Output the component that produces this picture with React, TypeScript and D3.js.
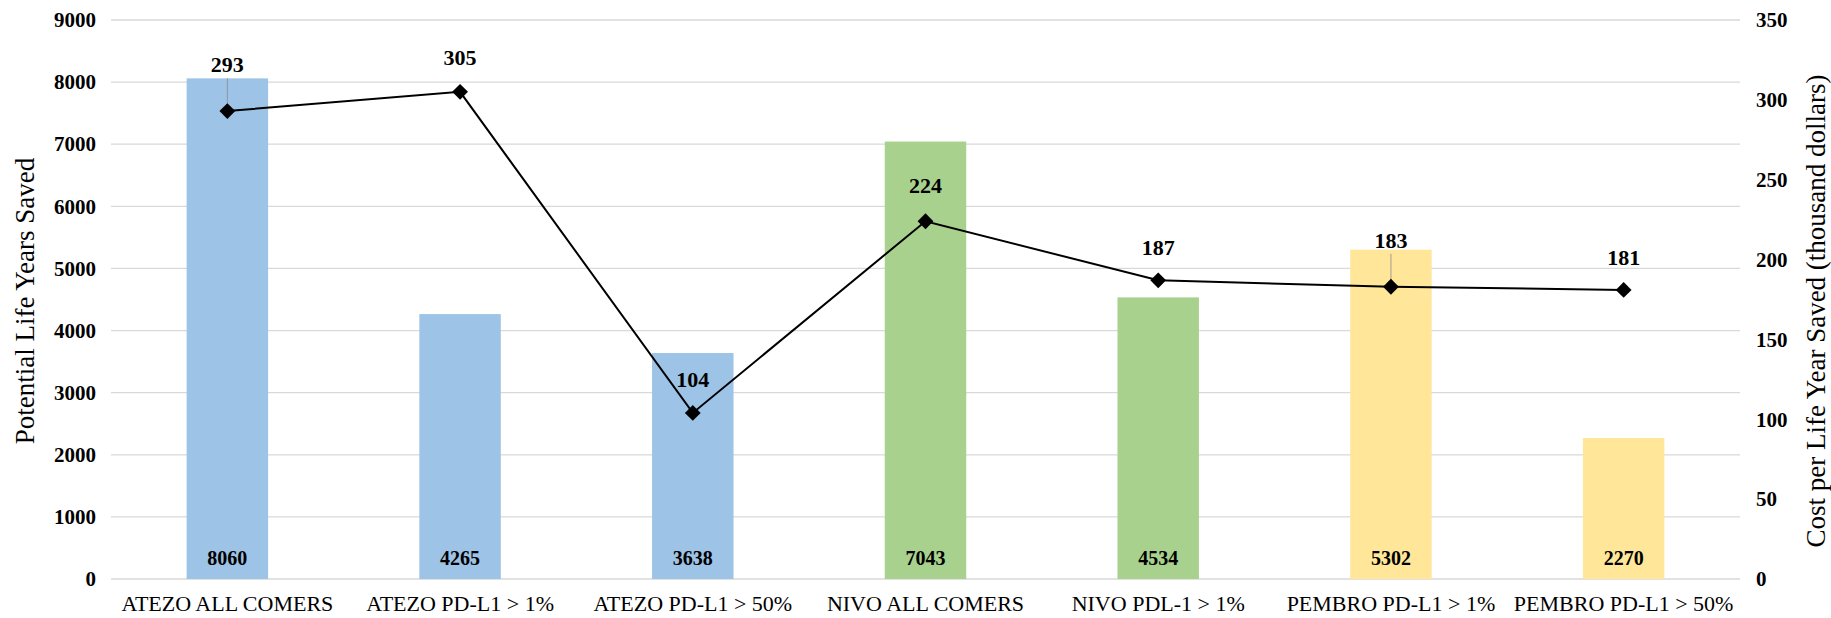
import React, { useRef, useEffect } from 'react';
import * as d3 from 'd3';

const categories = ['ATEZO ALL COMERS', 'ATEZO PD-L1 > 1%', 'ATEZO PD-L1 > 50%', 'NIVO ALL COMERS', 'NIVO PDL-1 > 1%', 'PEMBRO PD-L1 > 1%', 'PEMBRO PD-L1 > 50%'];
const lifeYears = [8060, 4265, 3638, 7043, 4534, 5302, 2270];
const costPerYear = [293, 305, 104, 224, 187, 183, 181];
const leftTicks = [0, 1000, 2000, 3000, 4000, 5000, 6000, 7000, 8000, 9000];
const rightTicks = [0, 50, 100, 150, 200, 250, 300, 350];
const barColors = ['#9dc3e6', '#9dc3e6', '#9dc3e6', '#a9d18e', '#a9d18e', '#ffe699', '#ffe699'];
// baseline distance of each line label above its point
const labelOffsets = [39, 27, 26, 28, 25, 39, 25];

const W = 1831;
const H = 618;

export default function App() {
  const ref = useRef<SVGSVGElement>(null);

  useEffect(() => {
    const svg = d3.select(ref.current);
    svg.selectAll('*').remove();

    const margin = { top: 20, right: 91, bottom: 39, left: 111 };
    const font = '"Liberation Serif", "Times New Roman", serif';

    const x = d3.scaleBand().domain(categories).range([margin.left, W - margin.right]).paddingInner(0.65).paddingOuter(0.325);
    const yL = d3.scaleLinear().domain([0, 9000]).range([H - margin.bottom, margin.top]);
    const yR = d3.scaleLinear().domain([0, 350]).range([H - margin.bottom, margin.top]);

    // gridlines
    svg.append('g')
      .selectAll('line')
      .data(leftTicks)
      .join('line')
      .attr('x1', margin.left)
      .attr('x2', W - margin.right)
      .attr('y1', d => yL(d))
      .attr('y2', d => yL(d))
      .attr('stroke', '#d9d9d9')
      .attr('stroke-width', 1.3);

    // left axis
    const left = svg.append('g')
      .attr('transform', `translate(${margin.left - 15},0)`)
      .call(d3.axisLeft(yL).tickValues(leftTicks).tickFormat(d3.format('d')).tickSize(0).tickPadding(0));
    left.select('.domain').remove();
    left.selectAll('text').attr('font-family', font).attr('font-size', 21).attr('font-weight', 'bold').attr('fill', '#000');

    // right axis
    const right = svg.append('g')
      .attr('transform', `translate(${W - margin.right + 16},0)`)
      .call(d3.axisRight(yR).tickValues(rightTicks).tickSize(0).tickPadding(0));
    right.select('.domain').remove();
    right.selectAll('text').attr('font-family', font).attr('font-size', 21).attr('font-weight', 'bold').attr('fill', '#000');

    // bottom axis
    const bottom = svg.append('g')
      .attr('transform', `translate(0,${H - margin.bottom})`)
      .call(d3.axisBottom(x).tickSize(0).tickPadding(16));
    bottom.select('.domain').remove();
    bottom.selectAll('text').attr('font-family', font).attr('font-size', 22).attr('fill', '#000');

    // bars
    svg.append('g')
      .selectAll('rect')
      .data(lifeYears)
      .join('rect')
      .attr('x', (d, i) => x(categories[i])!)
      .attr('width', x.bandwidth())
      .attr('y', d => yL(d))
      .attr('height', d => yL(0) - yL(d))
      .attr('fill', (d, i) => barColors[i]);

    svg.append('g')
      .selectAll('text')
      .data(lifeYears)
      .join('text')
      .attr('x', (d, i) => x(categories[i])! + x.bandwidth() / 2)
      .attr('y', yL(0) - 14)
      .attr('text-anchor', 'middle')
      .attr('font-family', font)
      .attr('font-size', 20)
      .attr('font-weight', 'bold')
      .text(d => d);

    // cost line
    const cx = (i: number) => x(categories[i])! + x.bandwidth() / 2;
    const line = d3.line<number>().x((d, i) => cx(i)).y(d => yR(d));
    svg.append('path')
      .datum(costPerYear)
      .attr('d', line)
      .attr('fill', 'none')
      .attr('stroke', '#000')
      .attr('stroke-width', 2);

    // leader lines for the labels pushed up by the bars
    const idx = d3.range(costPerYear.length).filter(i => labelOffsets[i] > 35);
    svg.append('g')
      .selectAll('line')
      .data(idx)
      .join('line')
      .attr('x1', i => cx(i))
      .attr('x2', i => cx(i))
      .attr('y1', i => yR(costPerYear[i]) - labelOffsets[i] + 6)
      .attr('y2', i => yR(costPerYear[i]))
      .attr('stroke', '#8c8c8c')
      .attr('stroke-width', 0.8);

    svg.append('g')
      .selectAll('path')
      .data(costPerYear)
      .join('path')
      .attr('d', d3.symbol().type(d3.symbolSquare).size(125)())
      .attr('transform', (d, i) => `translate(${cx(i)},${yR(d)}) rotate(45)`)
      .attr('fill', '#000');

    svg.append('g')
      .selectAll('text')
      .data(costPerYear)
      .join('text')
      .attr('x', (d, i) => cx(i))
      .attr('y', (d, i) => yR(d) - labelOffsets[i])
      .attr('text-anchor', 'middle')
      .attr('font-family', font)
      .attr('font-size', 22)
      .attr('font-weight', 'bold')
      .text(d => d);

    // axis titles
    svg.append('text')
      .attr('transform', `translate(34,301) rotate(-90)`)
      .attr('text-anchor', 'middle')
      .attr('font-family', font)
      .attr('font-size', 27)
      .text('Potential Life Years Saved');

    svg.append('text')
      .attr('transform', `translate(1825,311) rotate(-90)`)
      .attr('text-anchor', 'middle')
      .attr('font-family', font)
      .attr('font-size', 27)
      .text('Cost per Life Year Saved (thousand dollars)');
  }, []);

  return (
    <svg ref={ref} width={W} height={H} style={{ position: 'absolute', left: 0, top: 0, background: '#fff' }}></svg>
  );
}
